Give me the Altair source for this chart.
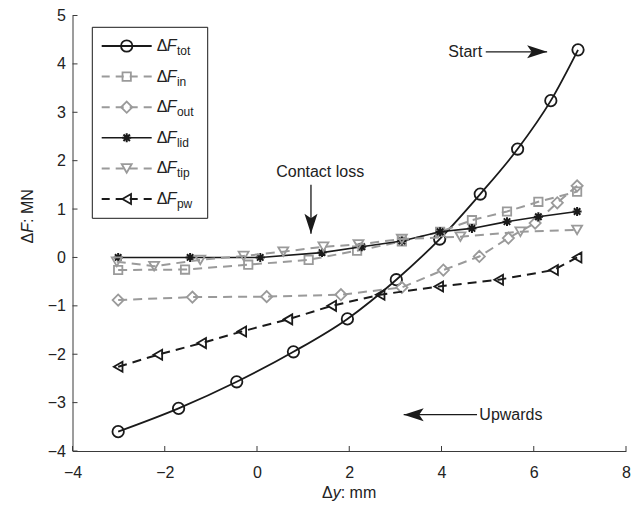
import altair as alt
import pandas as pd

# ---------------- data ----------------
series_names = ["tot", "in", "out", "lid", "tip", "pw"]

tot_x = [-3.01, -1.70, -0.44, 0.79, 1.96, 3.02, 3.96, 4.84, 5.65, 6.37, 6.96]
tot_y = [-3.60, -3.12, -2.57, -1.95, -1.27, -0.46, 0.38, 1.31, 2.24, 3.24, 4.29]
in_x = [-3.01, -1.56, -0.19, 1.12, 2.17, 3.14, 3.97, 4.66, 5.42, 6.10, 6.94]
in_y = [-0.26, -0.25, -0.15, -0.05, 0.14, 0.33, 0.53, 0.77, 0.95, 1.15, 1.36]
out_x = [-3.01, -1.40, 0.21, 1.82, 3.14, 4.04, 4.82, 5.45, 6.03, 6.51, 6.94]
out_y = [-0.88, -0.82, -0.81, -0.77, -0.62, -0.26, 0.02, 0.40, 0.71, 1.13, 1.48]
lid_x = [-3.01, -1.45, 0.07, 1.41, 2.27, 3.14, 3.97, 4.66, 5.42, 6.10, 6.94]
lid_y = [0.00, 0.00, 0.00, 0.10, 0.22, 0.34, 0.53, 0.60, 0.74, 0.84, 0.95]
tip_x = [-3.04, -2.23, -1.23, -0.29, 0.57, 1.44, 2.20, 3.14, 4.41, 5.71, 6.94]
tip_y = [-0.09, -0.18, -0.05, 0.03, 0.12, 0.22, 0.27, 0.38, 0.43, 0.53, 0.57]
pw_x = [-3.01, -2.15, -1.20, -0.33, 0.67, 1.62, 2.67, 3.94, 5.24, 6.43, 6.94]
pw_y = [-2.26, -2.01, -1.77, -1.53, -1.28, -1.00, -0.77, -0.60, -0.46, -0.26, 0.00]

x_ticks = [-4, -2, 0, 2, 4, 6, 8]
y_ticks = [-4, -3, -2, -1, 0, 1, 2, 3, 4, 5]

ann_text = ["Start", "Contact loss", "Upwards"]
ann_tx = [4.88, 1.37, 4.82]
ann_ty = [4.25, 1.77, -3.25]
arr_x1 = [4.96, 1.17, 4.77]
arr_y1 = [4.25, 1.50, -3.25]
arr_x2 = [6.29, 1.17, 3.18]
arr_y2 = [4.25, 0.49, -3.25]

# ---------------- styles ----------------
BLACK = "#1a1a1a"
GRAY = "#9a9a9a"
AXC = "#3a3a3a"
TXT = "#222222"
FONT = "Liberation Sans"
FS = 16
ASTER = "M-1,0L1,0M0,-1L0,1M-0.72,-0.72L0.72,0.72M-0.72,0.72L0.72,-0.72"
HEAD = "M1,0L-1,-0.65L-0.55,0L-1,0.65Z"

styles = {
    "tot": dict(color=BLACK, dash=None, lw=1.8, shape="circle", size=130, sw=1.8, interp="monotone"),
    "in": dict(color=GRAY, dash=[9, 6], lw=2.0, shape="square", size=70, sw=1.8, interp="linear"),
    "out": dict(color=GRAY, dash=[9, 6], lw=2.0, shape="diamond", size=125, sw=1.8, interp="linear"),
    "lid": dict(color=BLACK, dash=None, lw=1.6, shape=ASTER, size=80, sw=2.0, interp="linear"),
    "tip": dict(color=GRAY, dash=[9, 6], lw=2.0, shape="triangle-down", size=100, sw=1.8, interp="linear"),
    "pw": dict(color=BLACK, dash=[9, 6], lw=2.0, shape="triangle-left", size=100, sw=1.8, interp="linear"),
}
series_data = {
    "tot": (tot_x, tot_y), "in": (in_x, in_y), "out": (out_x, out_y),
    "lid": (lid_x, lid_y), "tip": (tip_x, tip_y), "pw": (pw_x, pw_y),
}

W, H = 553.5, 435.5
xs = alt.Scale(domain=[-4, 8], nice=False, zero=False)
ys = alt.Scale(domain=[-4, 5], nice=False, zero=False)
X_AX = alt.Axis(values=x_ticks, title=None, ticks=False, grid=False, labelPadding=13, format="d",
                domain=True, labels=True, labelFlush=False, labelOverlap=False)
Y_AX = alt.Axis(values=y_ticks, title=None, ticks=False, grid=False, labelPadding=7, format="d",
                domain=True, labels=True, labelFlush=False, labelOverlap=False)


def XQ(f):
    return alt.X(f, type="quantitative", scale=xs, axis=X_AX)


def YQ(f):
    return alt.Y(f, type="quantitative", scale=ys, axis=Y_AX)


layers = []

# inward ticks
ytk = pd.DataFrame({"v": y_ticks, "x0": [x_ticks[0]] * len(y_ticks)})
layers.append(
    alt.Chart(ytk).mark_tick(orient="horizontal", size=5, thickness=1, xOffset=2.5, color=AXC, opacity=1).encode(
        x=XQ("x0"), y=YQ("v"))
)
xtk = pd.DataFrame({"v": x_ticks, "y0": [y_ticks[0]] * len(x_ticks)})
layers.append(
    alt.Chart(xtk).mark_tick(orient="vertical", size=5, thickness=1, yOffset=-2.5, color=AXC, opacity=1).encode(
        x=XQ("v"), y=YQ("y0"))
)

# data series
for name in series_names:
    st = styles[name]
    xv, yv = series_data[name]
    df = pd.DataFrame({"x": xv, "y": yv})
    lk = dict(color=st["color"], strokeWidth=st["lw"], interpolate=st["interp"])
    if st["dash"]:
        lk["strokeDash"] = st["dash"]
    layers.append(alt.Chart(df).mark_line(**lk).encode(x=XQ("x"), y=YQ("y")))
    layers.append(alt.Chart(df).mark_point(shape=st["shape"], size=st["size"], filled=False,
                                           color=st["color"], strokeWidth=st["sw"], opacity=1).encode(
        x=XQ("x"), y=YQ("y")))

# annotations
ann_df = pd.DataFrame({"t": ann_text, "x": ann_tx, "y": ann_ty})
aligns = ["right", "center", "left"]
for i in range(3):
    layers.append(
        alt.Chart(ann_df.iloc[[i]]).mark_text(align=aligns[i], baseline="middle", font=FONT, fontSize=FS,
                                             color=TXT).encode(x=XQ("x"), y=YQ("y"), text="t:N")
    )
arr_df = pd.DataFrame({"x1": arr_x1, "y1": arr_y1, "x2": arr_x2, "y2": arr_y2})
layers.append(
    alt.Chart(arr_df).mark_rule(color=BLACK, strokeWidth=1.3).encode(
        x=XQ("x1"), y=YQ("y1"), x2="x2:Q", y2="y2:Q")
)
head_angles = [0, 90, 180]
head_off = [(-10, 0), (0, -10), (10, 0)]
for i in range(3):
    layers.append(
        alt.Chart(arr_df.iloc[[i]]).mark_point(shape=HEAD, size=400, filled=True, color=BLACK, opacity=1,
                                               angle=head_angles[i], xOffset=head_off[i][0],
                                               yOffset=head_off[i][1], strokeWidth=0).encode(
            x=XQ("x2"), y=YQ("y2"))
    )

# legend (pixel layout inside the plot area)
one = pd.DataFrame({"a": [0]})
layers.append(
    alt.Chart(one).mark_rect(fill="white", stroke=BLACK, strokeWidth=1).encode(
        x=alt.value(19.8), x2=alt.value(135.2), y=alt.value(11.8), y2=alt.value(202.8))
)
for i, name in enumerate(series_names):
    st = styles[name]
    ly = 30.5 + 30.6 * i
    rk = dict(color=st["color"], strokeWidth=st["lw"])
    if st["dash"]:
        rk["strokeDash"] = [8, 6]
    layers.append(alt.Chart(one).mark_rule(**rk).encode(
        x=alt.value(29.2), x2=alt.value(79.2), y=alt.value(ly)))
    layers.append(alt.Chart(one).mark_point(shape=st["shape"], size=st["size"], filled=False,
                                            color=st["color"], strokeWidth=st["sw"], opacity=1).encode(
        x=alt.value(54.2), y=alt.value(ly)))
    layers.append(alt.Chart(one).mark_text(text="Δ", align="left", baseline="middle", font=FONT,
                                           fontSize=FS, color=TXT).encode(x=alt.value(84.2), y=alt.value(ly)))
    layers.append(alt.Chart(one).mark_text(text="F", align="left", baseline="middle", font=FONT,
                                           fontSize=FS, fontStyle="italic", color=TXT).encode(
        x=alt.value(94.2), y=alt.value(ly)))
    layers.append(alt.Chart(one).mark_text(text=name, align="left", baseline="middle", font=FONT,
                                           fontSize=12, color=TXT).encode(
        x=alt.value(104.4), y=alt.value(ly + 5)))


# axis titles as text parts (for italic variable names)
def tpart(t, x, y, italic=False, angle=0):
    kw = dict(text=t, align="left", baseline="middle", font=FONT, fontSize=FS, color=TXT, angle=angle)
    if italic:
        kw["fontStyle"] = "italic"
    return alt.Chart(one).mark_text(**kw).encode(x=alt.value(x), y=alt.value(y))


layers += [
    tpart("Δ", 249.5, 477.5),
    tpart("y", 260.2, 477.5, italic=True),
    tpart(": mm", 268.2, 477.5),
    tpart("Δ", -44.5, 228.0, angle=270),
    tpart("F", -44.5, 217.3, italic=True, angle=270),
    tpart(": MN", -44.5, 207.5, angle=270),
]

chart = alt.layer(*layers).properties(
    width=W, height=H,
    autosize=alt.AutoSizeParams(type="none"),
    padding={"left": 64.5, "top": 7.5, "right": 8, "bottom": 50},
).configure_view(stroke=None).configure_axis(
    domainColor=AXC, domainWidth=1, labelFont=FONT, labelFontSize=FS, labelColor=TXT,
)

chart.save("out.html", embed_options={"renderer": "svg", "actions": False})
